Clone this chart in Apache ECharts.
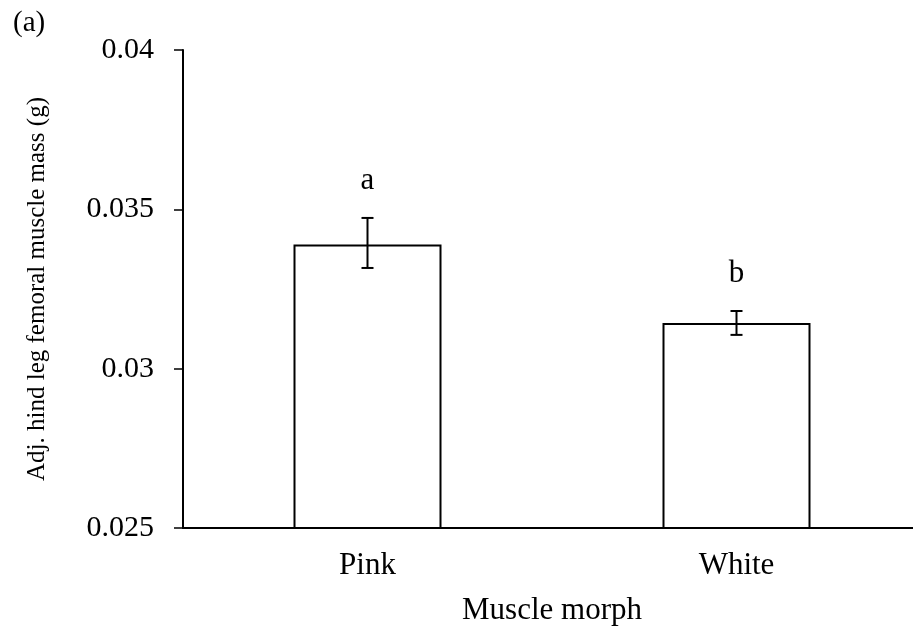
<!DOCTYPE html>
<html>
<head>
<meta charset="utf-8">
<script src="https://cdn.jsdelivr.net/npm/echarts@6/dist/echarts.min.js"></script>
<style>
    html, body { margin: 0; padding: 0; background: #fff; }
    #chart { width: 913px; height: 633px; }
</style>
</head>
<body>
<div id="chart"></div>
<script>
// data
var categories = ['Pink', 'White'];
var means = [0.0339, 0.03143];
var errLow = [0.03316, 0.03106];
var errHigh = [0.03473, 0.03181];
var letters = ['a', 'b'];
var yTicks = [0.025, 0.03, 0.035, 0.04];

var FONT = '"Liberation Serif", "Times New Roman", serif';
var INK = '#000';

var chart = echarts.init(document.getElementById('chart'));

// error bars + significance letters
function renderErr(params, api) {
    var idx = api.value(0);
    var lo = api.coord([idx, api.value(1)]);
    var hi = api.coord([idx, api.value(2)]);
    var half = 6;
    var st = { stroke: INK, lineWidth: 2 };
    return {
        type: 'group',
        children: [
            { type: 'line', shape: { x1: hi[0], y1: hi[1], x2: lo[0], y2: lo[1] }, style: st },
            { type: 'line', shape: { x1: hi[0] - half, y1: hi[1], x2: hi[0] + half, y2: hi[1] }, style: st },
            { type: 'line', shape: { x1: lo[0] - half, y1: lo[1], x2: lo[0] + half, y2: lo[1] }, style: st },
            {
                type: 'text',
                x: hi[0], y: hi[1] - 22,
                style: {
                    text: letters[params.dataIndex],
                    font: '31px ' + FONT,
                    fill: INK,
                    textAlign: 'center',
                    textVerticalAlign: 'bottom'
                }
            }
        ]
    };
}

var option = {
    animation: false,
    title: {
        text: '(a)',
        left: 8,
        top: 4,
        textStyle: { fontFamily: FONT, fontSize: 29, fontWeight: 'normal', color: INK }
    },
    grid: { left: 183, right: -8, top: 50, bottom: 105, outerBoundsMode: 'none', containLabel: false },
    xAxis: {
        type: 'category',
        data: categories,
        name: 'Muscle morph',
        nameLocation: 'middle',
        nameGap: 67,
        nameTextStyle: { fontFamily: FONT, fontSize: 31, color: INK },
        axisLine: { lineStyle: { color: INK, width: 2 } },
        axisTick: { alignWithLabel: true, length: 7, lineStyle: { color: INK, width: 1.5 } },
        axisLabel: { fontFamily: FONT, fontSize: 31, color: INK, margin: 22 },
        splitLine: { show: false }
    },
    yAxis: {
        type: 'value',
        min: 0.025,
        max: 0.04,
        interval: 0.005,
        name: 'Adj. hind leg femoral muscle mass (g)',
        nameLocation: 'middle',
        nameGap: 133,
        nameTextStyle: { fontFamily: FONT, fontSize: 25, color: INK },
        axisLine: { show: true, lineStyle: { color: INK, width: 2 } },
        axisTick: { show: true, length: 9, lineStyle: { color: INK, width: 1.5 } },
        axisLabel: {
            fontFamily: FONT, fontSize: 30, color: INK, margin: 29,
            customValues: yTicks,
            formatter: function(v) { return String(+v.toFixed(3)); }
        },
        splitLine: { show: false }
    },
    series: [
        {
            type: 'bar',
            data: means,
            barWidth: 148,
            itemStyle: { color: '#fff', borderColor: INK, borderWidth: 2 }
        },
        {
            type: 'custom',
            renderItem: renderErr,
            data: categories.map(function(c, i) { return [i, errLow[i], errHigh[i]]; }),
            z: 10
        }
    ]
};

chart.setOption(option);
</script>
</body>
</html>
